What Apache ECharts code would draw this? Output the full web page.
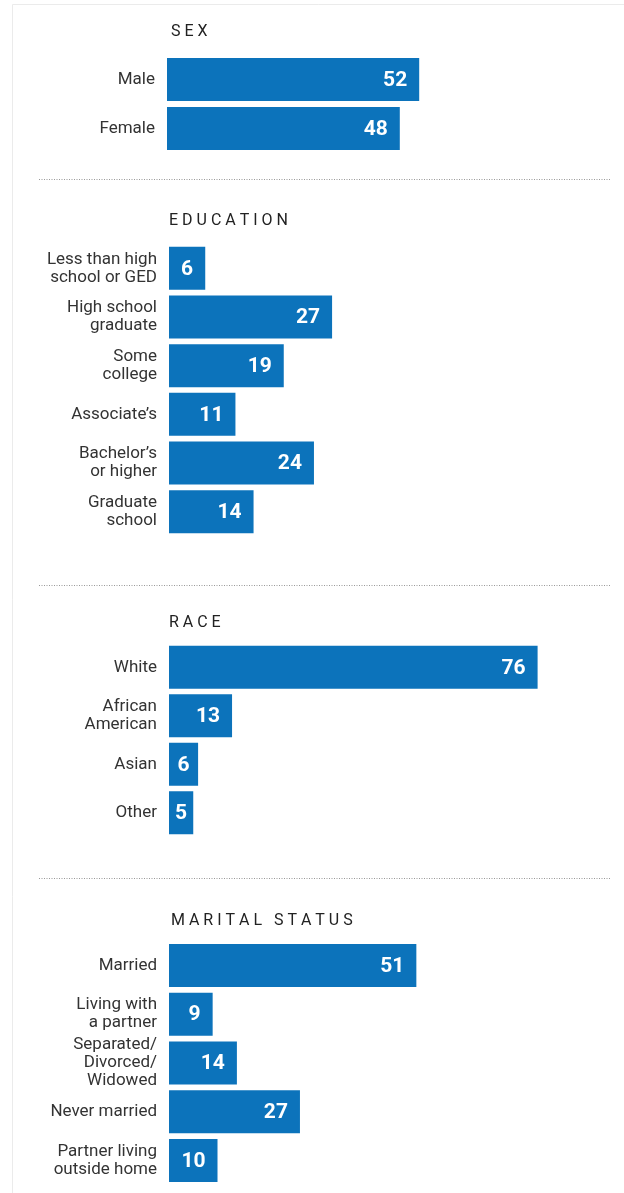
<!DOCTYPE html>
<html>
<head>
<meta charset="utf-8">
<script src="https://cdn.jsdelivr.net/npm/echarts@6/dist/echarts.min.js"></script>
<style>
html, body { margin: 0; padding: 0; background: #fff; }
#chart { width: 624px; height: 1193px; }
</style>
</head>
<body>
<div id="chart"></div>
<script>
const titles = ['SEX', 'EDUCATION', 'RACE', 'MARITAL STATUS']

const sexCats = ['Male', 'Female']
const sexValues = [52, 48]

const eduCats = ['Less than high\nschool or GED', 'High school\ngraduate', 'Some\ncollege', 'Associate’s', 'Bachelor’s\nor higher', 'Graduate\nschool']
const eduValues = [6, 27, 19, 11, 24, 14]

const raceCats = ['White', 'African\nAmerican', 'Asian', 'Other']
const raceValues = [76, 13, 6, 5]

const maritalCats = ['Married', 'Living with\na partner', 'Separated/\nDivorced/\nWidowed', 'Never married', 'Partner living\noutside home']
const maritalValues = [51, 9, 14, 27, 10]

const BLUE = '#0c73bb'
const FONT = 'Roboto, sans-serif'

// one block per section: where the grid sits and how many px per unit
const blocks = [
    { cats: sexCats, values: sexValues, top: 55, height: 98, left: 167, max: 80, width: 388, titleTop: 24, titleLeft: 171 },
    { cats: eduCats, values: eduValues, top: 244, height: 292, left: 169, max: 50, width: 302, titleTop: 213, titleLeft: 169 },
    { cats: raceCats, values: raceValues, top: 643, height: 194, left: 169, max: 80, width: 388, titleTop: 615, titleLeft: 169 },
    { cats: maritalCats, values: maritalValues, top: 941, height: 244, left: 169, max: 80, width: 388, titleTop: 913, titleLeft: 171 }
]

function spaced(t) {
    return t.split('').join(' ')
}

function barData(b) {
    let scale = b.width / b.max
    return b.values.map(v => {
        let px = v * scale
        return {
            value: v,
            label: px < 40 ? { position: 'inside' } : { position: 'insideRight', distance: 12 }
        }
    })
}

let option = {
    animation: false,
    backgroundColor: '#fff',
    title: blocks.map((b, i) => ({
        text: spaced(titles[i]),
        left: b.titleLeft,
        top: b.titleTop,
        padding: 0,
        textStyle: { fontFamily: FONT, fontSize: 16, fontWeight: 'normal', color: '#222' }
    })),
    grid: blocks.map(b => ({ left: b.left, top: b.top, width: b.width, height: b.height, outerBoundsMode: 'none' })),
    xAxis: blocks.map((b, i) => ({
        type: 'value', gridIndex: i, min: 0, max: b.max, show: false
    })),
    yAxis: blocks.map((b, i) => ({
        type: 'category', gridIndex: i, inverse: true, data: b.cats,
        axisLine: { show: false }, axisTick: { show: false }, splitLine: { show: false },
        axisLabel: { margin: 12, fontFamily: FONT, fontSize: 17, lineHeight: 18, color: '#333', padding: [3, 0, 0, 0] }
    })),
    series: blocks.map((b, i) => ({
        type: 'bar', xAxisIndex: i, yAxisIndex: i,
        data: barData(b),
        barWidth: 43,
        itemStyle: { color: BLUE },
        label: { show: true, color: '#fff', fontFamily: FONT, fontWeight: 'bold', fontSize: 21, offset: [0, 1] }
    })),
    graphic: [
        { type: 'rect', shape: { x: 12.5, y: 4.5, width: 700, height: 1300 }, style: { fill: null, stroke: '#ebebeb', lineWidth: 1 }, silent: true },
        ...[179.5, 585.5, 878.5].map(y => ({
            type: 'line', shape: { x1: 39, y1: y, x2: 610, y2: y },
            style: { stroke: '#999', lineWidth: 1, lineDash: [1, 1.5] }, silent: true
        }))
    ]
}

let chart = echarts.init(document.getElementById('chart'))
chart.setOption(option)
</script>
</body>
</html>
